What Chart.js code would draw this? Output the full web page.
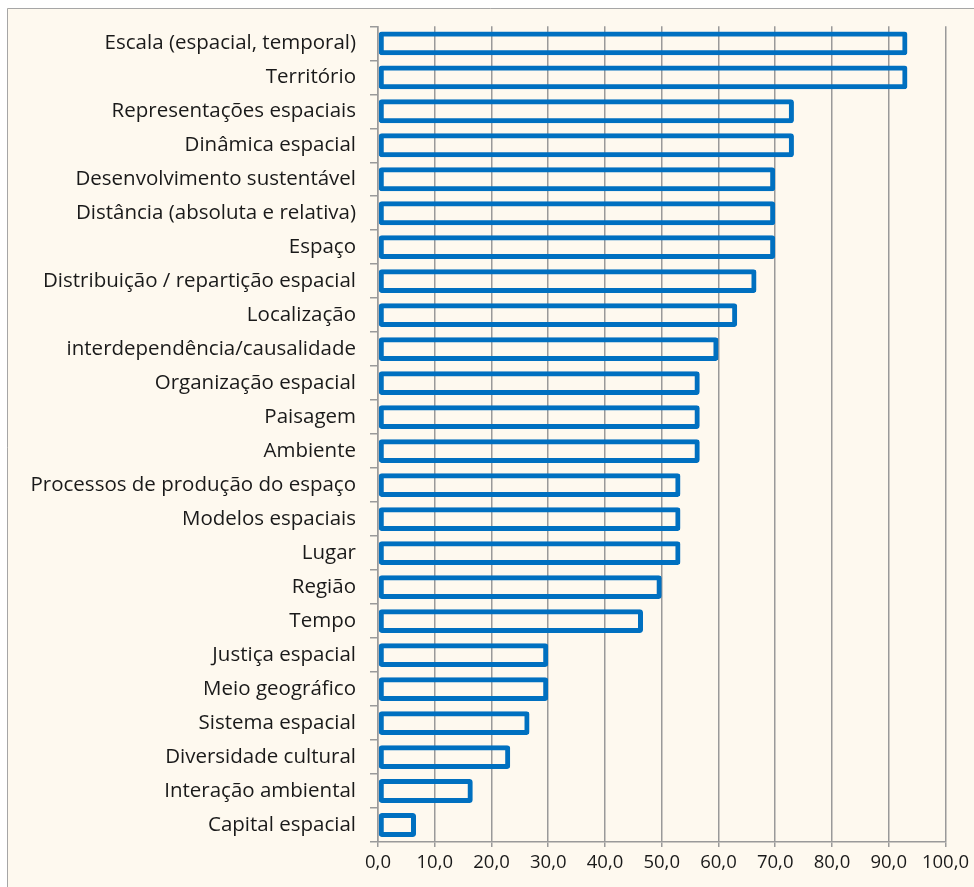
<!DOCTYPE html>
<html>
<head>
<meta charset="utf-8">
<script src="https://cdn.jsdelivr.net/npm/chart.js@4/dist/chart.umd.min.js"></script>
<style>
  html, body { margin: 0; padding: 0; background: #fff; }
  #wrap { width: 974px; height: 887px; }
</style>
</head>
<body>
<div id="wrap"><canvas id="myChart" width="974" height="887"></canvas></div>
<script>
'use strict';

const categories = [
  'Escala (espacial, temporal)', 'Território', 'Representações espaciais', 'Dinâmica espacial',
  'Desenvolvimento sustentável', 'Distância (absoluta e relativa)', 'Espaço',
  'Distribuição / repartição espacial', 'Localização', 'interdependência/causalidade',
  'Organização espacial', 'Paisagem', 'Ambiente', 'Processos de produção do espaço',
  'Modelos espaciais', 'Lugar', 'Região', 'Tempo', 'Justiça espacial', 'Meio geográfico',
  'Sistema espacial', 'Diversidade cultural', 'Interação ambiental', 'Capital espacial'
];
const values = [
  93.3, 93.3, 73.3, 73.3, 70.0, 70.0, 70.0, 66.7, 63.3, 60.0, 56.7, 56.7, 56.7,
  53.3, 53.3, 53.3, 50.0, 46.7, 30.0, 30.0, 26.7, 23.3, 16.7, 6.7
];
const xTicks = [0, 10, 20, 30, 40, 50, 60, 70, 80, 90, 100];

const fontFamily = "'Open Sans', 'Noto Sans', sans-serif";

// background + outer frame
const frame = {
  id: 'frame',
  beforeDraw(chart) {
    const { ctx, width, height } = chart;
    ctx.save();
    ctx.fillStyle = '#ffffff';
    ctx.fillRect(0, 0, width, height);
    ctx.fillStyle = '#FEF9EF';
    ctx.fillRect(7, 8, width - 7, height - 8);
    ctx.strokeStyle = '#A6A6A6';
    ctx.lineWidth = 1;
    ctx.beginPath();
    ctx.moveTo(7.5, height);
    ctx.lineTo(7.5, 8.5);
    ctx.lineTo(width, 8.5);
    ctx.stroke();
    ctx.restore();
  }
};

const data = {
  labels: categories,
  datasets: [{
    data: values,
    backgroundColor: 'rgba(0,0,0,0)',
    borderColor: '#0070C0',
    borderWidth: 5,
    borderRadius: 3,
    borderSkipped: false,
    barPercentage: 0.7,
    categoryPercentage: 1
  }]
};

const config = {
  type: 'bar',
  data,
  options: {
    indexAxis: 'y',
    responsive: false,
    animation: false,
    layout: { padding: { top: 23, right: 27, left: 0, bottom: 0 } },
    plugins: {
      legend: { display: false },
      tooltip: { enabled: false }
    },
    scales: {
      x: {
        min: 0,
        max: 100,
        afterBuildTicks(scale) {
          scale.ticks = xTicks.map(v => ({ value: v }));
        },
        afterFit(scale) { scale.height = 45; },
        grid: { color: '#9A9A9A', lineWidth: 1.5, tickLength: 5 },
        border: { color: '#9A9A9A', width: 1.5 },
        ticks: {
          color: '#1a1a1a',
          font: { family: fontFamily, size: 18.5 },
          padding: 5,
          maxRotation: 0,
          callback: v => v.toFixed(1).replace('.', ',')
        }
      },
      y: {
        afterFit(scale) { scale.width = 378; },
        grid: { drawOnChartArea: false, color: '#9A9A9A', lineWidth: 1.5, tickLength: 8, offset: true },
        border: { color: '#9A9A9A', width: 1.5 },
        ticks: {
          color: '#1a1a1a',
          font: { family: fontFamily, size: 20.5 },
          padding: 14,
          autoSkip: false
        }
      }
    }
  },
  plugins: [frame]
};

const myChart = new Chart(document.getElementById('myChart'), config);
</script>
</body>
</html>
